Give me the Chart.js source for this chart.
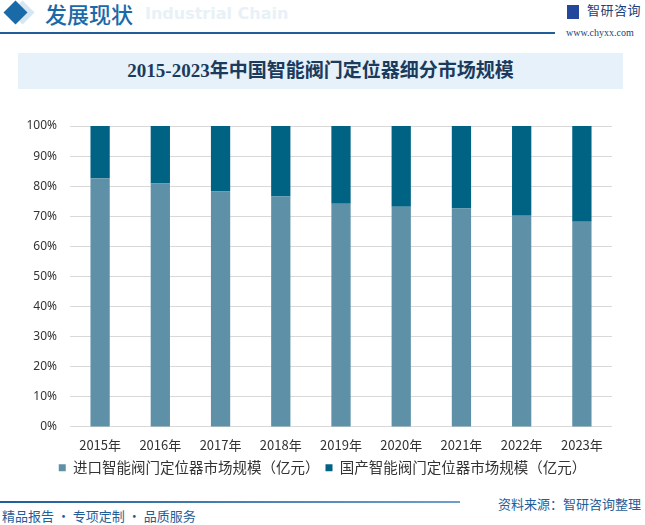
<!DOCTYPE html>
<html>
<head>
<meta charset="utf-8">
<script src="https://cdn.jsdelivr.net/npm/chart.js@4/dist/chart.umd.min.js"></script>
<style>
  body { margin: 0; width: 645px; height: 525px; background: #fff; position: relative; overflow: hidden; font-family: "Noto Sans CJK SC", "Noto Sans", sans-serif; }
  .abs { position: absolute; white-space: nowrap; }
  #diamond2 { left: 14px; top: 4px; width: 17px; height: 17px; background: #d6e6f2; transform: rotate(45deg); }
  #diamond { left: 7px; top: 4px; width: 17px; height: 17px; background: #1a6aa8; transform: rotate(45deg); }
  #head { left: 45px; top: -3px; font-size: 22px; color: #1a6aa8; font-weight: 500; }
  #chain { left: 145px; top: 4px; font-size: 16px; color: #e8f1f8; font-weight: bold; font-family: "DejaVu Sans"; }
  #topline { left: 0; top: 32px; width: 555px; height: 2px; background: #1f5e99; }
  #logo { left: 567px; top: 5px; width: 12px; height: 14px; background: #23479a; }
  #logotext { left: 587px; top: 0px; font-size: 13px; color: #1a3f7a; letter-spacing: 0.5px; }
  #www { left: 566px; top: 27px; font-size: 10px; color: #1a3f7a; font-family: "Liberation Serif"; }
  #titlebox { left: 18px; top: 53px; width: 605px; height: 36px; background: #e6f1fa; text-align: center; line-height: 36px; font-size: 19px; font-weight: bold; color: #1b3a5c; font-family: "Liberation Serif", "Noto Sans CJK SC"; }
  #wrap { left: 0; top: 105px; width: 645px; height: 380px; }
  #botline { left: 0; top: 501px; width: 460px; height: 2px; background: linear-gradient(90deg, #1f5e99, #6d9fc9); }
  #slogan { left: 2px; top: 506px; font-size: 13px; color: #1f5e99; }
  #source { left: 498px; top: 494px; font-size: 13px; color: #1f5e99; }
</style>
</head>
<body>
<div class="abs" id="diamond2"></div>
<div class="abs" id="diamond"></div>
<div class="abs" id="head">发展现状</div>
<div class="abs" id="chain">Industrial Chain</div>
<div class="abs" id="topline"></div>
<div class="abs" id="logo"></div>
<div class="abs" id="logotext">智研咨询</div>
<div class="abs" id="www">www.chyxx.com</div>
<div class="abs" id="titlebox">2015-2023年中国智能阀门定位器细分市场规模</div>
<div class="abs" id="wrap"><canvas id="myChart" width="645" height="380"></canvas></div>
<div class="abs" id="botline"></div>
<div class="abs" id="slogan">精品报告 · 专项定制 · 品质服务</div>
<div class="abs" id="source">资料来源：智研咨询整理</div>
<script>
const years = ["2015年", "2016年", "2017年", "2018年", "2019年", "2020年", "2021年", "2022年", "2023年"];
// shares in percent
const importShare = [82.6, 80.9, 78.2, 76.6, 74.2, 73.2, 72.6, 70.2, 68.2];
const domesticShare = [17.4, 19.1, 21.8, 23.4, 25.8, 26.8, 27.4, 29.8, 31.8];
const seriesNames = ["进口智能阀门定位器市场规模（亿元）", "国产智能阀门定位器市场规模（亿元）"];

// legend is centred on the whole canvas, not only on the padded area
const wideLegend = {
  id: "wideLegend",
  afterLayout: (chart) => {
    chart.legend.left = 0;
    chart.legend.right = chart.width;
    chart.legend.width = chart.width;
  },
};

new Chart("myChart", {
  type: "bar",
  data: {
    labels: years,
    datasets: [
      {
        label: seriesNames[0],
        data: importShare,
        backgroundColor: "#5e91a8",
        categoryPercentage: 1,
        barPercentage: 0.32,
      },
      {
        label: seriesNames[1],
        data: domesticShare,
        backgroundColor: "#006384",
        categoryPercentage: 1,
        barPercentage: 0.32,
      },
    ],
  },
  options: {
    responsive: false,
    animation: false,
    layout: { padding: { top: 21, right: 33, left: 0, bottom: 0 } },
    plugins: {
      tooltip: { enabled: false },
      legend: {
        position: "bottom",
        labels: {
          boxWidth: 7,
          boxHeight: 7,
          padding: 6,
          color: "#333",
          font: { size: 14.5, family: "Noto Sans CJK SC" },
        },
      },
    },
    scales: {
      x: {
        stacked: true,
        grid: { display: false },
        border: { display: false },
        ticks: { color: "#333", font: { size: 13, family: "Noto Sans CJK SC" }, padding: 2 },
      },
      y: {
        stacked: true,
        min: 0,
        max: 100,
        afterFit: (s) => { s.width = 70; },
        grid: { color: "#d9d9d9", drawTicks: false },
        border: { display: false },
        ticks: {
          stepSize: 10,
          padding: 13,
          color: "#333",
          font: { size: 12, family: "Noto Sans" },
          callback: (v) => v + "%",
        },
      },
    },
  },
  plugins: [wideLegend],
});
</script>
</body>
</html>
